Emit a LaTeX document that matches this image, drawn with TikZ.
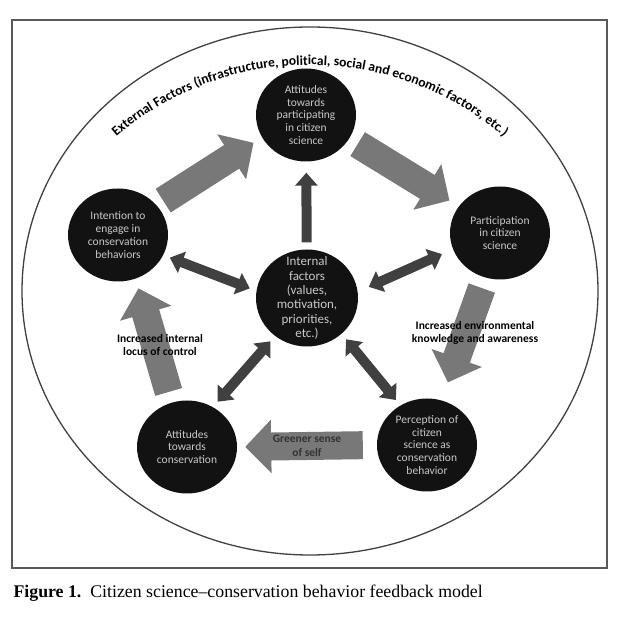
\documentclass[tikz,border=0pt]{standalone}
\usepackage{fontspec}
\setmainfont{Liberation Serif}
\setsansfont{Carlito}
\usetikzlibrary{shapes.geometric,arrows.meta,decorations.text}
\definecolor{blockgray}{HTML}{787878}
\definecolor{linkgray}{HTML}{404040}
\definecolor{factortext}{HTML}{C8C8C8}

\begin{document}
\begin{tikzpicture}[x=1pt,y=1pt,
  factor/.style={ellipse,fill=black!93,text=factortext,minimum width=100pt,minimum height=93pt,
    inner sep=-14pt,align=center,font=\sffamily\fontsize{11.5}{12.8}\selectfont},
  bigarrow/.style={draw=blockgray,line width=28pt,shorten <=10pt,shorten >=10pt,
    -{Triangle[width=52pt,length=26pt]}},
  link/.style={draw=linkgray,line width=10pt,shorten <=7pt,shorten >=7pt,
    -{Triangle[width=22pt,length=13pt]}},
  twolink/.style={link,{Triangle[width=22pt,length=13pt]}-{Triangle[width=22pt,length=13pt]}},
  effect/.style={font=\sffamily\bfseries\fontsize{11.5}{13.5}\selectfont,align=center}]
  \useasboundingbox (0,0) rectangle (622,618);
  \draw[black!65,line width=1.2pt] (12,50) rectangle (607,598);
  \draw[black!75,line width=1.3pt] (310,327) ellipse[x radius=288,y radius=264];
  \path[decorate,decoration={text along path,text align=center,
    text={|\sffamily\bfseries\fontsize{13.6}{15}\selectfont|External Factors (infrastructure, political, social and economic factors, etc.)}}]
    (310,256) ++(140:297) arc[start angle=140,end angle=40,radius=297];

  \node[factor] (top) at (306,503) {Attitudes\\towards\\participating\\in citizen\\science};
  \node[factor] (intent) at (118,383) {Intention to\\engage in\\conservation\\behaviors};
  \node[factor] (particip) at (500,385) {Participation\\in citizen\\science};
  \node[factor,minimum width=102pt,minimum height=97pt,font=\sffamily\fontsize{13}{14.4}\selectfont]
    (internal) at (307,320) {Internal\\factors\\(values,\\motivation,\\priorities,\\etc.)};
  \node[factor] (attcons) at (187,171) {Attitudes\\towards\\conservation};
  \node[factor] (percep) at (427,173) {Perception of\\citizen\\science as\\conservation\\behavior};

  \draw[bigarrow,shorten <=8pt] (intent.38) -- (top.207);
  \draw[bigarrow,shorten >=11pt] (top.-29) -- (particip.147);
  \draw[bigarrow,shorten <=11pt,shorten >=19pt] (particip.252) -- (percep.72);
  \draw[bigarrow,shorten <=14pt,shorten >=8pt] (percep.180) -- (attcons.0)
    node[midway,effect,text=black!80] (greener) {Greener sense\\of self};
  \draw[bigarrow,shorten <=11pt] (attcons.109) -- (intent.-68);

  \draw[link,shorten >=11pt] (internal) -- (top);
  \draw[twolink] (internal.172) -- (intent.-24);
  \draw[twolink,shorten <=12pt,shorten >=12pt] (internal.7) -- (particip.199);
  \draw[twolink] (internal.230) -- (attcons.57);
  \draw[twolink] (internal.-46) -- (percep.124);

  \node[effect] (awareness) at (475,285) {Increased environmental\\knowledge and awareness};
  \node[effect] (locus) at (160,273) {Increased internal\\locus of control};

  \node[anchor=base west,font=\fontsize{17.8}{20}\selectfont] (caption) at (10,20)
    {\textbf{Figure 1.}\ \ Citizen science--conservation behavior feedback model};
\end{tikzpicture}
\end{document}
